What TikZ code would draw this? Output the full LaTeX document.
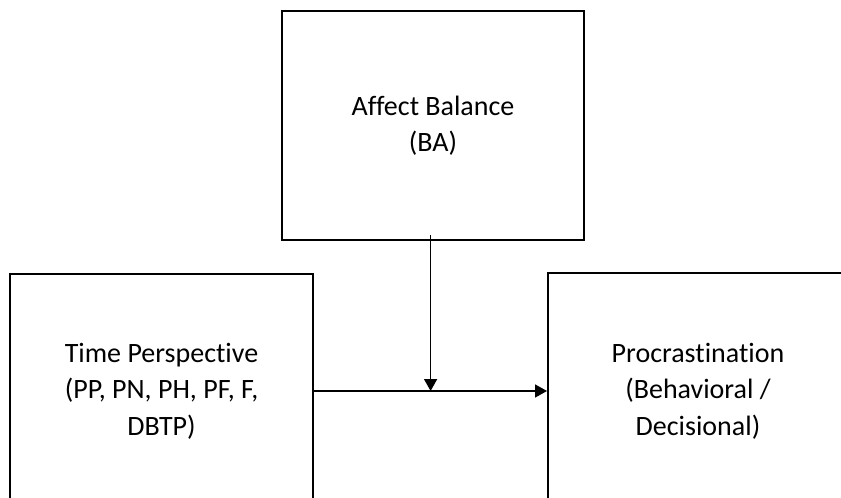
\documentclass[tikz,border=0pt]{standalone}
\usepackage{fontspec}
\setmainfont[Ligatures=NoCommon]{Carlito}
\usetikzlibrary{arrows.meta, positioning}

\begin{document}
\begin{tikzpicture}[x=0.5pt, y=-0.5pt]
\tikzstyle{varbox} = [rectangle, draw=black, line width=1pt, align=center, inner sep=0pt, font=\fontsize{14}{18.2}\selectfont]
\tikzstyle{link} = [line width=0.8pt, -{Triangle[length=6pt, width=6.5pt]}]

\useasboundingbox (0,0) rectangle (841,498);
\clip (0,0) rectangle (841,498);

\node (affect) [varbox, minimum width=151pt, minimum height=114.5pt] at (433,125.5) {Affect Balance\\(BA)};
\node (timep) [varbox, minimum width=151.5pt, minimum height=117pt] at (161.5,391) {Time Perspective\\(PP, PN, PH, PF, F,\\DBTP)};
\node (procr) [varbox, minimum width=150pt, minimum height=118pt] at (698,391) {Procrastination\\(Behavioral /\\Decisional)};

\coordinate (join) at ([xshift=-1.2pt]affect.south |- timep.east);

\draw[link] (timep.east) -- (procr.west);
\draw[link] ([xshift=-1.2pt, yshift=3pt]affect.south) -- (join);

\end{tikzpicture}
\end{document}
